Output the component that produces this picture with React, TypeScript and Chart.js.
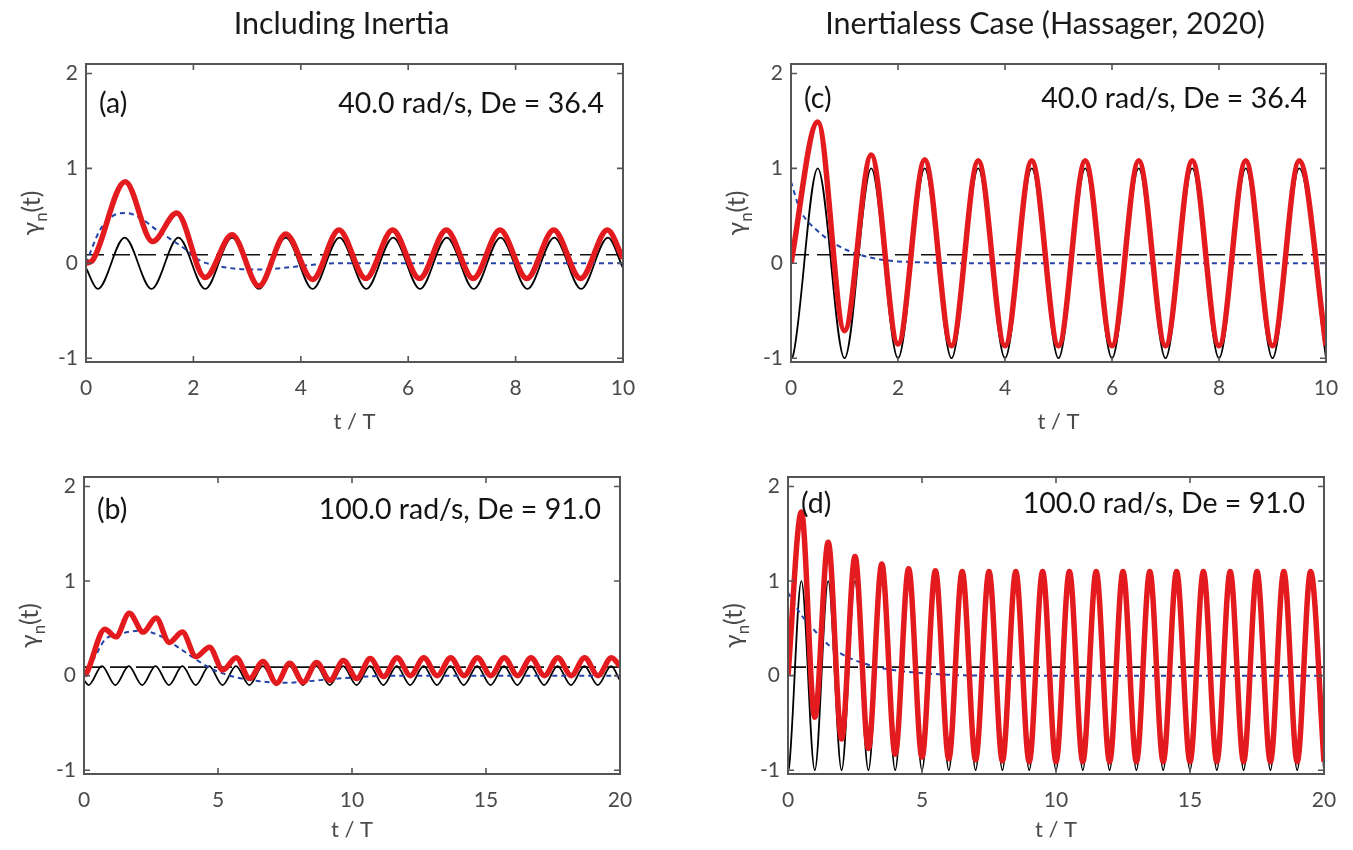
import React, { useEffect, useRef } from 'react';
import { Chart, registerables } from 'chart.js';

Chart.register(...registerables);

type Pt = [number, number];

const FONT = 'Lato, "Noto Sans", "DejaVu Sans", sans-serif';
const RED = '#e41b1e';
const BLUE = '#2443a8';
const INK = '#141414';
const AXIS = '#555555';
const TICK_TEXT = '#4a4a4a';

const Y_MIN = -1.04;
const Y_MAX = 2.1;
const yTickValues = [-1, 0, 1, 2];
const xTicksTen = [0, 2, 4, 6, 8, 10];
const xTicksTwenty = [0, 5, 10, 15, 20];

// ---- (a) including inertia, 40.0 rad/s ----
const aOscillation: Pt[] = [
  [0, -0.05], [0.22, -0.27], [0.72, 0.27], [1.22, -0.27], [1.72, 0.27], [2.22, -0.27], [2.72, 0.27],
  [3.22, -0.27], [3.72, 0.27], [4.22, -0.27], [4.72, 0.27], [5.22, -0.27], [5.72, 0.27], [6.22, -0.27],
  [6.72, 0.27], [7.22, -0.27], [7.72, 0.27], [8.22, -0.27], [8.72, 0.27], [9.22, -0.27], [9.72, 0.27], [10, -0.05],
];
const aTotal: Pt[] = [
  [0, 0], [0.12, 0.03], [0.73, 0.86], [1.24, 0.23], [1.69, 0.53], [2.22, -0.15], [2.72, 0.3], [3.22, -0.24],
  [3.72, 0.31], [4.22, -0.17], [4.71, 0.35], [5.21, -0.16], [5.71, 0.35], [6.21, -0.16], [6.71, 0.35],
  [7.21, -0.16], [7.71, 0.35], [8.21, -0.16], [8.71, 0.35], [9.21, -0.16], [9.71, 0.35], [10, 0.05],
];
const aTransient: Pt[] = [
  [0, 0], [0.26, 0.35], [0.5, 0.5], [0.75, 0.53], [1.0, 0.48], [1.32, 0.35], [1.56, 0.26], [1.87, 0.14],
  [2.12, 0.03], [2.4, -0.02], [2.75, -0.055], [3.24, -0.065], [3.74, -0.045], [4.23, -0.015], [4.7, 0], [10, 0],
];
const aOffset: Pt[] = [[0, 0.09], [10, 0.09]];

// ---- (b) including inertia, 100.0 rad/s ----
const bOscillation: Pt[] = [
  [0, -0.05], [0.17, -0.1], [0.67, 0.1], [1.17, -0.1], [1.67, 0.1], [2.17, -0.1], [2.67, 0.1], [3.17, -0.1],
  [3.67, 0.1], [4.17, -0.1], [4.67, 0.1], [5.17, -0.1], [5.67, 0.1], [6.17, -0.1], [6.67, 0.1], [7.17, -0.1],
  [7.67, 0.1], [8.17, -0.1], [8.67, 0.1], [9.17, -0.1], [9.67, 0.1], [10.17, -0.1], [10.67, 0.1], [11.17, -0.1],
  [11.67, 0.1], [12.17, -0.1], [12.67, 0.1], [13.17, -0.1], [13.67, 0.1], [14.17, -0.1], [14.67, 0.1],
  [15.17, -0.1], [15.67, 0.1], [16.17, -0.1], [16.67, 0.1], [17.17, -0.1], [17.67, 0.1], [18.17, -0.1],
  [18.67, 0.1], [19.17, -0.1], [19.67, 0.1], [20, -0.05],
];
const bTotal: Pt[] = [
  [0, 0], [0.1, 0.03], [0.78, 0.49], [1.19, 0.41], [1.69, 0.66], [2.21, 0.46], [2.69, 0.61], [3.18, 0.35],
  [3.67, 0.46], [4.18, 0.2], [4.68, 0.3], [5.18, 0.06], [5.68, 0.19], [6.18, -0.03], [6.68, 0.15], [7.18, -0.08],
  [7.68, 0.13], [8.18, -0.07], [8.68, 0.14], [9.18, -0.05], [9.68, 0.16], [10.18, -0.03], [10.68, 0.18],
  [11.18, -0.01], [11.68, 0.19], [12.18, 0], [12.68, 0.19], [13.18, 0], [13.68, 0.19], [14.18, 0], [14.68, 0.19],
  [15.18, 0], [15.68, 0.19], [16.18, 0], [16.68, 0.19], [17.18, 0], [17.68, 0.19], [18.18, 0], [18.68, 0.19],
  [19.18, 0], [19.68, 0.19], [20, 0.1],
];
const bTransient: Pt[] = [
  [0, -0.01], [0.41, 0.2], [0.78, 0.38], [1.22, 0.43], [1.72, 0.465], [2.05, 0.475], [2.4, 0.465], [2.84, 0.42],
  [3.46, 0.31], [4.08, 0.19], [4.7, 0.08], [5.32, 0.01], [6.07, -0.04], [6.94, -0.07], [7.6, -0.075],
  [8.33, -0.06], [9.33, -0.035], [10.3, -0.015], [11.3, 0], [20, 0],
];
const bOffset: Pt[] = [[0, 0.09], [20, 0.09]];

// ---- (c) inertialess, 40.0 rad/s ----
const cOscillation: Pt[] = [
  [0, -1], [0.04, -0.97], [0.5, 1], [1, -1], [1.5, 1], [2, -1], [2.5, 1], [3, -1], [3.5, 1], [4, -1], [4.5, 1],
  [5, -1], [5.5, 1], [6, -1], [6.5, 1], [7, -1], [7.5, 1], [8, -1], [8.5, 1], [9, -1], [9.5, 1], [10, -1],
];
const cTotal: Pt[] = [
  [0, 0], [0.5, 1.49], [1, -0.71], [1.5, 1.14], [2, -0.85], [2.5, 1.09], [3, -0.87], [3.5, 1.08], [4, -0.87],
  [4.5, 1.08], [5, -0.87], [5.5, 1.08], [6, -0.87], [6.5, 1.08], [7, -0.87], [7.5, 1.08], [8, -0.87],
  [8.5, 1.08], [9, -0.87], [9.5, 1.08], [10, -0.87],
];
const cTransient: Pt[] = [
  [0, 0.86], [0.17, 0.56], [0.3, 0.45], [0.48, 0.35], [0.67, 0.26], [1.04, 0.14], [1.41, 0.07], [1.79, 0.03],
  [2.4, 0.01], [3.3, 0], [10, 0],
];
const cOffset: Pt[] = [[0, 0.09], [10, 0.09]];

// ---- (d) inertialess, 100.0 rad/s ----
const dOscillation: Pt[] = [
  [0, -1], [0.04, -0.97], [0.5, 1], [1, -1], [1.5, 1], [2, -1], [2.5, 1], [3, -1], [3.5, 1], [4, -1], [4.5, 1],
  [5, -1], [5.5, 1], [6, -1], [6.5, 1], [7, -1], [7.5, 1], [8, -1], [8.5, 1], [9, -1], [9.5, 1], [10, -1],
  [10.5, 1], [11, -1], [11.5, 1], [12, -1], [12.5, 1], [13, -1], [13.5, 1], [14, -1], [14.5, 1], [15, -1],
  [15.5, 1], [16, -1], [16.5, 1], [17, -1], [17.5, 1], [18, -1], [18.5, 1], [19, -1], [19.5, 1], [20, -1],
];
const dTotal: Pt[] = [
  [0, 0], [0.5, 1.73], [1, -0.44], [1.5, 1.41], [2, -0.67], [2.5, 1.26], [3, -0.77], [3.5, 1.18], [4, -0.83],
  [4.5, 1.13], [5, -0.86], [5.5, 1.11], [6, -0.88], [6.5, 1.1], [7, -0.89], [7.5, 1.1], [8, -0.9], [8.5, 1.1],
  [9, -0.91], [9.5, 1.1], [10, -0.91], [10.5, 1.1], [11, -0.91], [11.5, 1.1], [12, -0.91], [12.5, 1.1],
  [13, -0.91], [13.5, 1.1], [14, -0.91], [14.5, 1.1], [15, -0.91], [15.5, 1.1], [16, -0.91], [16.5, 1.1],
  [17, -0.91], [17.5, 1.1], [18, -0.91], [18.5, 1.1], [19, -0.91], [19.5, 1.1], [20, -0.91],
];
const dTransient: Pt[] = [
  [0, 0.88], [0.45, 0.66], [0.95, 0.49], [1.57, 0.31], [2.19, 0.2], [2.94, 0.12], [3.68, 0.07], [4.68, 0.035],
  [5.92, 0.01], [7.5, 0], [20, 0],
];
const dOffset: Pt[] = [[0, 0.09], [20, 0.09]];

interface PanelSpec {
  id: string;
  tag: string;
  note: string;
  // plot area on the page
  left: number;
  top: number;
  width: number;
  height: number;
  xMax: number;
  xTicks: number[];
  total: Pt[];
  transient: Pt[];
  oscillation: Pt[];
  offset: Pt[];
  textBase: number; // baseline of the in-plot text, below the plot top
  xTitleOffset: number; // centre of "t / T", below the plot bottom
}

const PANELS: PanelSpec[] = [
  {
    id: 'a', tag: '(a)', note: '40.0 rad/s, De = 36.4',
    left: 86, top: 64, width: 537, height: 298, xMax: 10, xTicks: xTicksTen,
    total: aTotal, transient: aTransient, oscillation: aOscillation, offset: aOffset,
    textBase: 49, xTitleOffset: 60,
  },
  {
    id: 'c', tag: '(c)', note: '40.0 rad/s, De = 36.4',
    left: 791, top: 64, width: 535, height: 298, xMax: 10, xTicks: xTicksTen,
    total: cTotal, transient: cTransient, oscillation: cOscillation, offset: cOffset,
    textBase: 44, xTitleOffset: 60,
  },
  {
    id: 'b', tag: '(b)', note: '100.0 rad/s, De = 91.0',
    left: 84, top: 477, width: 536, height: 297, xMax: 20, xTicks: xTicksTwenty,
    total: bTotal, transient: bTransient, oscillation: bOscillation, offset: bOffset,
    textBase: 42, xTitleOffset: 56,
  },
  {
    id: 'd', tag: '(d)', note: '100.0 rad/s, De = 91.0',
    left: 788, top: 477, width: 536, height: 297, xMax: 20, xTicks: xTicksTwenty,
    total: dTotal, transient: dTransient, oscillation: dOscillation, offset: dOffset,
    textBase: 36, xTitleOffset: 56,
  },
];

const AXIS_W = 86;
const PAD_TOP = 64;
const PAD_RIGHT = 30;
const AXIS_H = 80;

const toXY = (pts: Pt[]) => pts.map(([x, y]) => ({ x, y }));

function series(pts: Pt[], color: string, width: number, dash: number[], order: number) {
  return {
    data: toXY(pts),
    borderColor: color,
    borderWidth: width,
    borderDash: dash,
    pointRadius: 0,
    pointHoverRadius: 0,
    fill: false,
    cubicInterpolationMode: 'monotone' as const,
    borderCapStyle: 'butt' as const,
    borderJoinStyle: 'round' as const,
    order,
  };
}

// Box, inward tick marks, y title with subscript and the in-plot labels
const panelDecor = {
  id: 'panelDecor',
  afterDatasetsDraw(chart: any, _args: any, opts: any) {
    const { ctx, chartArea: a, scales } = chart;
    ctx.save();
    ctx.strokeStyle = AXIS;
    ctx.lineWidth = 1.6;
    const tick = 6;
    ctx.beginPath();
    for (const v of opts.xTicks as number[]) {
      const px = scales.x.getPixelForValue(v);
      ctx.moveTo(px, a.bottom);
      ctx.lineTo(px, a.bottom - tick);
      ctx.moveTo(px, a.top);
      ctx.lineTo(px, a.top + tick);
    }
    for (const v of yTickValues) {
      const py = scales.y.getPixelForValue(v);
      ctx.moveTo(a.left, py);
      ctx.lineTo(a.left + tick, py);
      ctx.moveTo(a.right, py);
      ctx.lineTo(a.right - tick, py);
    }
    ctx.stroke();
    ctx.lineWidth = 2;
    ctx.strokeRect(a.left, a.top, a.right - a.left, a.bottom - a.top);

    // panel tag and operating point
    ctx.fillStyle = INK;
    ctx.font = `28.5px ${FONT}`;
    ctx.textBaseline = 'alphabetic';
    ctx.textAlign = 'left';
    ctx.fillText(opts.tag, a.left + 13, a.top + opts.textBase);
    ctx.textAlign = 'right';
    ctx.fillText(opts.note, a.right - 19, a.top + opts.textBase);

    // y-axis title: gamma with subscript n, then (t)
    const cy = (a.top + a.bottom) / 2;
    const bx = a.left - 46;
    ctx.translate(bx, cy);
    ctx.rotate(-Math.PI / 2);
    ctx.fillStyle = TICK_TEXT;
    ctx.textAlign = 'left';
    const big = `25px ${FONT}`;
    const small = `17px ${FONT}`;
    ctx.font = big;
    const wG = ctx.measureText('γ').width;
    const wT = ctx.measureText('(t)').width;
    ctx.font = small;
    const wN = ctx.measureText('n').width;
    let x = -(wG + wN + wT) / 2;
    ctx.font = big;
    ctx.fillText('γ', x, 0);
    x += wG;
    ctx.font = small;
    ctx.fillText('n', x, 7);
    x += wN;
    ctx.font = big;
    ctx.fillText('(t)', x, 0);
    ctx.restore();
  },
};

function buildConfig(p: PanelSpec): any {
  return {
    type: 'line',
    data: {
      datasets: [
        series(p.total, RED, 5.5, [], 0),
        series(p.transient, BLUE, 2, [5, 4], 1),
        series(p.oscillation, '#000000', 1.8, [], 2),
        series(p.offset, '#111111', 1.7, [18, 8], 3),
      ],
    },
    options: {
      animation: false,
      responsive: false,
      events: [],
      layout: { padding: { top: PAD_TOP, right: PAD_RIGHT, left: 0, bottom: 0 } },
      plugins: {
        legend: { display: false },
        tooltip: { enabled: false },
        panelDecor: { tag: p.tag, note: p.note, xTicks: p.xTicks, textBase: p.textBase },
      },
      scales: {
        x: {
          type: 'linear',
          min: 0,
          max: p.xMax,
          afterBuildTicks: (s: any) => {
            s.ticks = p.xTicks.map((value) => ({ value }));
          },
          afterFit: (s: any) => {
            s.height = AXIS_H;
          },
          grid: { display: false, drawTicks: false },
          border: { display: false },
          ticks: {
            color: TICK_TEXT,
            font: { family: FONT, size: 21 },
            padding: 14,
            maxRotation: 0,
            autoSkip: false,
          },
          title: {
            display: true,
            text: 't / T',
            color: TICK_TEXT,
            font: { family: FONT, size: 22 },
            padding: { top: 0, bottom: AXIS_H - p.xTitleOffset - 13.2 },
          },
        },
        y: {
          type: 'linear',
          min: Y_MIN,
          max: Y_MAX,
          afterBuildTicks: (s: any) => {
            s.ticks = yTickValues.map((value) => ({ value }));
          },
          afterFit: (s: any) => {
            s.width = AXIS_W;
          },
          grid: { display: false, drawTicks: false },
          border: { display: false },
          ticks: {
            color: TICK_TEXT,
            font: { family: FONT, size: 21 },
            padding: 8,
          },
        },
      },
    },
    plugins: [panelDecor],
  };
}

function Panel({ spec }: { spec: PanelSpec }) {
  const ref = useRef<HTMLCanvasElement>(null);
  const w = spec.width + AXIS_W + PAD_RIGHT;
  const h = spec.height + PAD_TOP + AXIS_H;
  useEffect(() => {
    if (!ref.current) return;
    const chart = new Chart(ref.current, buildConfig(spec));
    return () => chart.destroy();
  }, [spec]);
  return (
    <canvas
      ref={ref}
      width={w}
      height={h}
      style={{ position: 'absolute', left: spec.left - AXIS_W, top: spec.top - PAD_TOP, width: w, height: h }}
    />
  );
}

const headingStyle = (centerX: number): React.CSSProperties => ({
  position: 'absolute',
  left: centerX - 350,
  width: 700,
  top: 7,
  textAlign: 'center',
  fontFamily: FONT,
  fontSize: 30.5,
  lineHeight: '30px',
  color: '#1a1a1a',
  whiteSpace: 'nowrap',
});

export default function App() {
  return (
    <div
      style={{
        position: 'absolute',
        left: 0,
        top: 0,
        width: 1353,
        height: 850,
        overflow: 'hidden',
        background: '#ffffff',
      }}
    >
      {PANELS.map((p) => (
        <Panel key={p.id} spec={p} />
      ))}
      <div style={headingStyle(341.5)}>Including Inertia</div>
      <div style={headingStyle(1045)}>Inertialess Case (Hassager, 2020)</div>
    </div>
  );
}
